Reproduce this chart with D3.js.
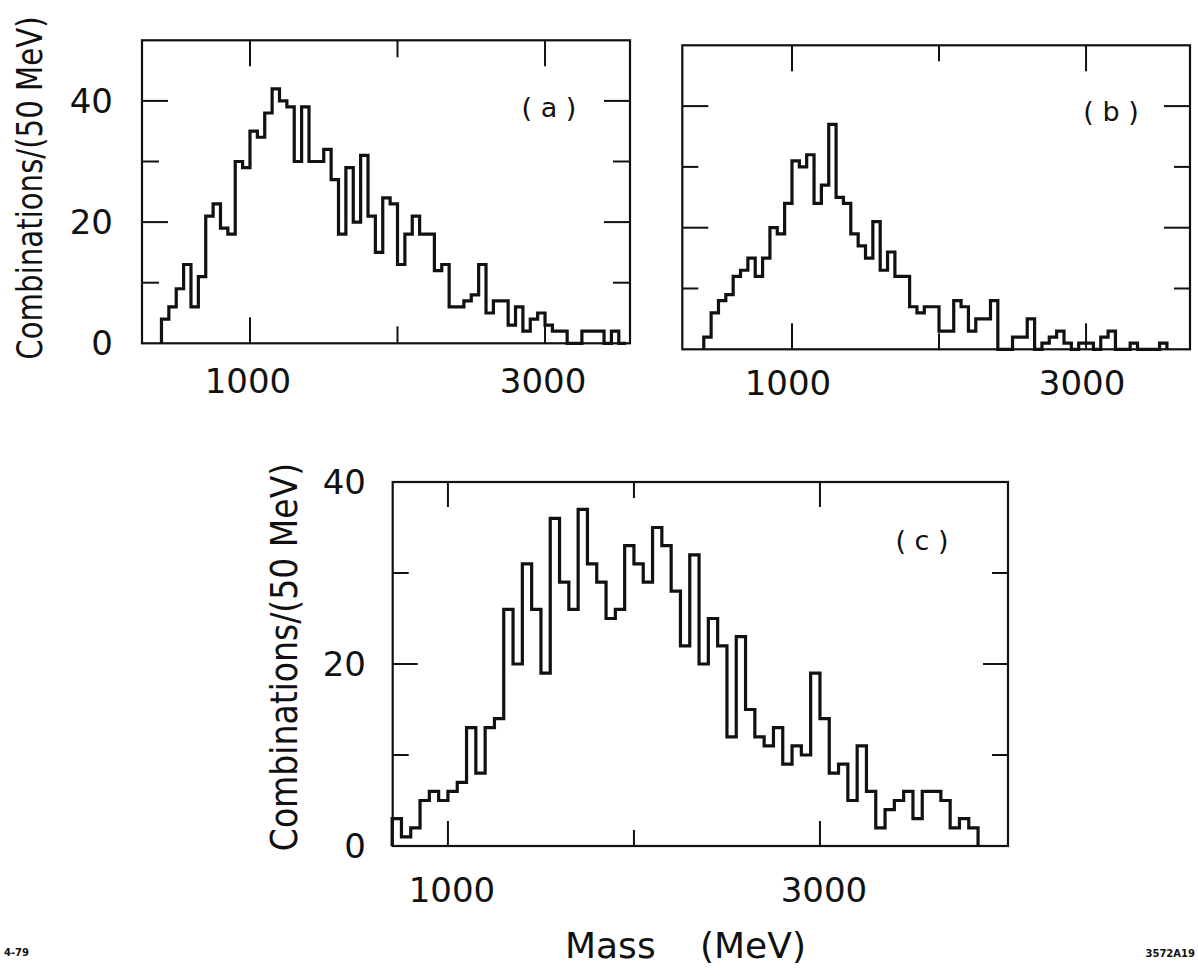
<!DOCTYPE html>
<html>
<head>
<meta charset="utf-8">
<script src="https://cdn.jsdelivr.net/npm/d3@7"></script>
<style>
  body { margin: 0; background: #fff; }
  svg text { font-family: "DejaVu Sans", sans-serif; fill: #111; }
</style>
</head>
<body>
<svg id="fig" width="1198" height="976"></svg>
<script>
// Mass spectra, 50 MeV bins
const binWidth = 50;
const startA = 400;
const startB = 400;
const startC = 700;

const countsA = [4, 6, 9, 13, 6, 11, 21, 23, 19, 18,
                 30, 29, 35, 34, 38, 42, 40, 39, 30, 39,
                 30, 30, 32, 27, 18, 29, 20, 31, 21, 15,
                 24, 23, 13, 18, 21, 18, 18, 12, 13, 6,
                 6, 7, 8, 13, 5, 7, 7, 3, 6, 2,
                 4, 5, 3, 2, 2, 0, 0, 2, 2, 2,
                 0, 2, 0];

const countsB = [2, 6, 8, 9, 12, 13, 15, 12, 15, 20,
                 19, 24, 31, 30, 32, 24, 27, 37, 25, 24,
                 19, 17, 15, 21, 13, 16, 12, 12, 7, 6,
                 7, 7, 3, 3, 8, 7, 3, 5, 5, 8,
                 0, 0, 2, 2, 5, 0, 1, 2, 3, 1,
                 0, 1, 1, 0, 2, 3, 0, 0, 1, 0,
                 0, 0, 1];

const countsC = [3, 1, 2, 5, 6, 5, 6, 7, 13, 8,
                 13, 14, 26, 20, 31, 26, 19, 36, 29, 26,
                 37, 31, 29, 25, 26, 33, 31, 29, 35, 33,
                 28, 22, 32, 20, 25, 22, 12, 23, 15, 12,
                 11, 13, 9, 11, 10, 19, 14, 8, 9, 5,
                 11, 6, 2, 4, 5, 6, 3, 6, 6, 5,
                 2, 3, 2];

const massTicks = [1000, 2000, 3000];
const massTickLabels = ["1000", "3000"];
const countTicksAB = [10, 20, 30, 40];
const countTicksC = [10, 20, 30];
const countLabels = ["0", "20", "40"];

const yTitle = "Combinations/(50 MeV)";
const xTitleA = "Mass";
const xTitleB = "(MeV)";

// ---- layout ----
const panels = [
  { counts: countsA, start: startA, tag: "( a )",
    xDomain: [268, 3576], xRange: [142, 630],
    yDomain: [0, 50], yRange: [343.3, 40.3],
    yTicks: countTicksAB, yLabelX: 113, showYLabels: true,
    xLabelY: 381, xLabelShift: -2,
    tagX: 549, tagY: 107, majorLen: 26, minorLen: 17 },
  { counts: countsB, start: startB, tag: "( b )",
    xDomain: [254, 3707], xRange: [682.3, 1190],
    yDomain: [0, 50], yRange: [349.3, 45.3],
    yTicks: countTicksAB, showYLabels: false,
    xLabelY: 383, xLabelShift: -4,
    tagX: 1111, tagY: 111, majorLen: 26, minorLen: 16 },
  { counts: countsC, start: startC, tag: "( c )",
    xDomain: [703, 4011], xRange: [392.7, 1008],
    yDomain: [0, 40], yRange: [846, 482],
    yTicks: countTicksC, yLabelX: 366, showYLabels: true,
    xLabelY: 890, xLabelShift: 4,
    tagX: 922, tagY: 540, majorLen: 25, minorLen: 16 }
];

const svg = d3.select("#fig");

panels.forEach(p => {
  const x = d3.scaleLinear().domain(p.xDomain).range(p.xRange);
  const y = d3.scaleLinear().domain(p.yDomain).range(p.yRange);
  const g = svg.append("g");
  const [x0, x1] = p.xRange;
  const [yb, yt] = p.yRange;

  // frame
  g.append("rect")
    .attr("x", x0).attr("y", yt)
    .attr("width", x1 - x0).attr("height", yb - yt)
    .attr("fill", "none").attr("stroke", "#111").attr("stroke-width", 2.2);

  // mass ticks on top and bottom edges, pointing inward
  massTicks.forEach(t => {
    const len = (t === 2000) ? p.minorLen : p.majorLen;
    const xp = x(t);
    g.append("line").attr("x1", xp).attr("x2", xp).attr("y1", yt).attr("y2", yt + len)
      .attr("stroke", "#111").attr("stroke-width", 2);
    g.append("line").attr("x1", xp).attr("x2", xp).attr("y1", yb).attr("y2", yb - len)
      .attr("stroke", "#111").attr("stroke-width", 2);
  });

  // count ticks on left and right edges
  p.yTicks.forEach(t => {
    const len = (t % 20 === 0) ? p.majorLen : p.minorLen;
    const yp = y(t);
    g.append("line").attr("x1", x0).attr("x2", x0 + len).attr("y1", yp).attr("y2", yp)
      .attr("stroke", "#111").attr("stroke-width", 2);
    g.append("line").attr("x1", x1).attr("x2", x1 - len).attr("y1", yp).attr("y2", yp)
      .attr("stroke", "#111").attr("stroke-width", 2);
  });

  // histogram outline
  const pts = [[p.start, 0]];
  p.counts.forEach((c, i) => {
    const lo = p.start + i * binWidth;
    pts.push([lo, c], [lo + binWidth, c]);
  });
  pts.push([p.start + p.counts.length * binWidth, 0]);
  const line = d3.line().x(d => x(d[0])).y(d => y(d[1]));
  g.append("path")
    .attr("d", line(pts))
    .attr("fill", "none").attr("stroke", "#111")
    .attr("stroke-width", 3.2).attr("stroke-linejoin", "miter");

  // mass tick labels
  [1000, 3000].forEach((t, i) => {
    g.append("text")
      .attr("x", x(t) + p.xLabelShift).attr("y", p.xLabelY)
      .attr("text-anchor", "middle").attr("dominant-baseline", "central")
      .attr("font-size", 34)
      .text(massTickLabels[i]);
  });

  // count labels
  if (p.showYLabels) {
    [0, 20, 40].forEach((t, i) => {
      g.append("text")
        .attr("x", p.yLabelX).attr("y", y(t))
        .attr("text-anchor", "end").attr("dominant-baseline", "central")
        .attr("font-size", 34)
        .text(countLabels[i]);
    });
  }

  // panel tag
  g.append("text")
    .attr("x", p.tagX).attr("y", p.tagY)
    .attr("text-anchor", "middle").attr("dominant-baseline", "central")
    .attr("font-size", 27)
    .text(p.tag);
});

// vertical axis titles, set in a slightly condensed face
function yTitleAt(cx, cy, size, squeeze) {
  svg.append("text")
    .attr("transform", `translate(${cx},${cy}) rotate(-90) scale(${squeeze},1)`)
    .attr("text-anchor", "middle").attr("dominant-baseline", "central")
    .attr("font-size", size)
    .text(yTitle);
}
yTitleAt(30, 188, 35, 0.835);
yTitleAt(284, 657, 38, 0.87);

// horizontal axis title
svg.append("text")
  .attr("x", 565).attr("y", 945).attr("dominant-baseline", "central")
  .attr("font-size", 36)
  .text(xTitleA);
svg.append("text")
  .attr("x", 700).attr("y", 945).attr("dominant-baseline", "central")
  .attr("font-size", 36)
  .text(xTitleB);

// figure codes
svg.append("text")
  .attr("x", 4).attr("y", 956).attr("font-size", 10).attr("font-weight", "bold")
  .text("4-79");
svg.append("text")
  .attr("x", 1195).attr("y", 957).attr("text-anchor", "end")
  .attr("font-size", 10).attr("font-weight", "bold")
  .text("3572A19");
</script>
</body>
</html>
